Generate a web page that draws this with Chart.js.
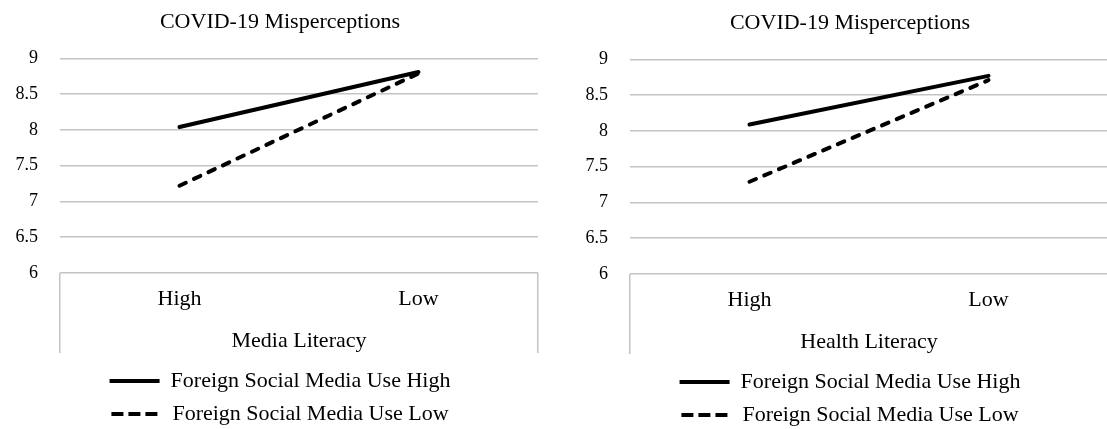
<!DOCTYPE html>
<html>
<head>
<meta charset="utf-8">
<script src="https://cdn.jsdelivr.net/npm/chart.js@4"></script>
<style>
  html, body { margin: 0; padding: 0; background: #fff; }
  body { width: 1107px; height: 429px; overflow: hidden; position: relative; }
  .box { position: absolute; width: 560px; height: 435px; }
</style>
</head>
<body>
<div class="box" style="left:0px; top:0px;"><canvas id="chartMedia" width="560" height="435"></canvas></div>
<div class="box" style="left:570px; top:1px;"><canvas id="chartHealth" width="560" height="435"></canvas></div>
<script>
var categories = ["High", "Low"];
var chartTitle = "COVID-19 Misperceptions";
var seriesNames = ["Foreign Social Media Use High", "Foreign Social Media Use Low"];

// left panel: media literacy
var mediaHigh = [8.04, 8.81];
var mediaLow = [7.22, 8.79];

// right panel: health literacy
var healthHigh = [8.09, 8.77];
var healthLow = [7.29, 8.71];

var yMin = 6;
var yMax = 9;
var yStep = 0.5;

var serif = "'Liberation Serif', 'Times New Roman', serif";
var gridColor = "#c4c4c4";

function makeChart(id, axisTitle, highValues, lowValues) {
  var ctx = document.getElementById(id);
  return new Chart(ctx, {
    type: "line",
    data: {
      labels: categories,
      datasets: [
        {
          label: seriesNames[0],
          data: highValues,
          borderColor: "#000",
          backgroundColor: "#000",
          borderWidth: 4,
          borderCapStyle: "round",
          pointRadius: 0,
          tension: 0,
          fill: false
        },
        {
          label: seriesNames[1],
          data: lowValues,
          borderColor: "#000",
          backgroundColor: "#000",
          borderWidth: 4,
          borderDash: [7, 9],
          borderCapStyle: "round",
          pointRadius: 0,
          tension: 0,
          fill: false
        }
      ]
    },
    options: {
      responsive: false,
      animation: false,
      layout: { padding: 0 },
      plugins: {
        tooltip: { enabled: false },
        title: {
          display: true,
          text: chartTitle,
          color: "#000",
          font: { family: serif, size: 22, weight: "normal" },
          padding: { top: 9, bottom: 23 }
        },
        legend: {
          display: true,
          position: "bottom",
          labels: {
            color: "#000",
            font: { family: serif, size: 22 },
            usePointStyle: true,
            pointStyle: "line",
            pointStyleWidth: 50,
            boxWidth: 50,
            padding: 11,
            generateLabels: function (chart) {
              // legend line samples: keep the dash of the dataset
              var items = Chart.defaults.plugins.legend.labels.generateLabels(chart);
              items.forEach(function (item) {
                var ds = chart.data.datasets[item.datasetIndex];
                item.lineDash = ds.borderDash ? [12, 5] : [];
                item.lineWidth = 4;
                item.lineCap = "butt";
                item.strokeStyle = "#000";
              });
              return items;
            }
          }
        }
      },
      scales: {
        x: {
          offset: true,
          border: { display: false },
          grid: {
            offset: true,
            drawOnChartArea: false,
            drawTicks: true,
            tickLength: 80,
            lineWidth: 1.5,
            color: function (c) { return c.index === 1 ? "rgba(0,0,0,0)" : gridColor; }
          },
          ticks: {
            color: "#000",
            font: { family: serif, size: 22 },
            padding: -67,
            maxRotation: 0
          },
          title: {
            display: true,
            text: axisTitle,
            color: "#000",
            font: { family: serif, size: 22 },
            padding: { top: 0, bottom: 5 }
          },
          afterFit: function (scale) { scale.height = 86; }
        },
        y: {
          min: yMin,
          max: yMax,
          border: { display: false },
          grid: { color: gridColor, lineWidth: 1.5, drawTicks: false },
          ticks: {
            stepSize: yStep,
            color: "#000",
            font: { family: serif, size: 18 },
            padding: 22,
            callback: function (value) { return String(value); }
          },
          afterFit: function (scale) { scale.width = 60; }
        },
        yRight: {
          position: "right",
          border: { display: false },
          grid: { display: false },
          ticks: { display: false },
          afterFit: function (scale) { scale.width = 22; }
        }
      }
    }
  });
}

makeChart("chartMedia", "Media Literacy", mediaHigh, mediaLow);
makeChart("chartHealth", "Health Literacy", healthHigh, healthLow);
</script>
</body>
</html>
